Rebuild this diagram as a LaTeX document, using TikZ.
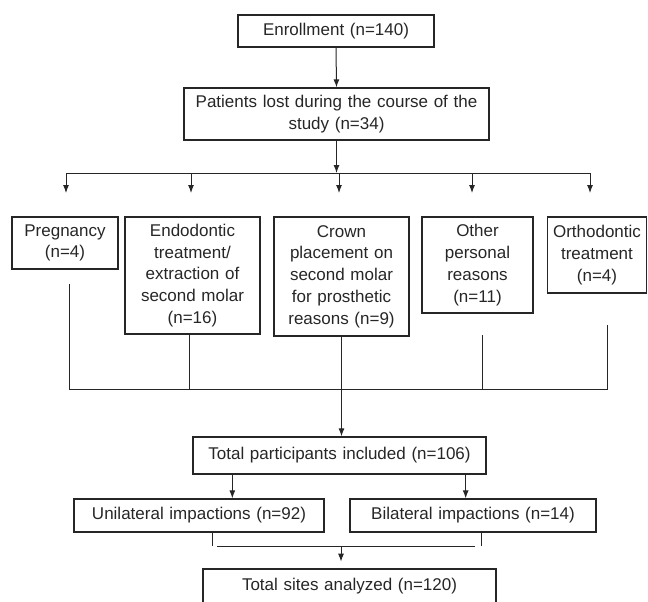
\documentclass[tikz,border=0pt]{standalone}
\usepackage{fontspec}
\setmainfont{Liberation Sans}
\usetikzlibrary{arrows.meta,positioning,calc}
\tikzset{
  flow/.style={-{Latex[length=6pt,width=4.5pt]},line width=0.75pt,draw=black!85},
  link/.style={line width=0.75pt,draw=black!85},
  box/.style={draw=black!85,line width=1pt,align=center,inner xsep=1pt,inner ysep=0pt,
              text=black!85}
}
\begin{document}
\begin{tikzpicture}[x=0.75pt,y=-0.75pt,font=\fontsize{12.75pt}{16.3pt}\selectfont]
  \useasboundingbox (0,0) rectangle (648,601);
  \node[box,text width=145pt,minimum height=24pt] (enroll) at (336,31) {Enrollment (n=140)};
  \node[box,text width=226.75pt,minimum height=39pt] (lost) at (336.5,114) {Patients lost during the course of the\\study (n=34)};
  \node[box,text width=77.5pt,minimum height=39pt] (preg) at (65,243) {Pregnancy\\(n=4)};
  \node[box,text width=99.25pt,minimum height=87.75pt] (endo) at (192.5,275.5) {Endodontic\\treatment/\\extraction of\\second molar\\(n=16)};
  \node[box,text width=99.25pt,minimum height=89.25pt] (crown) at (341.5,276.5) {Crown\\placement on\\second molar\\for prosthetic\\reasons (n=9)};
  \node[box,text width=81.25pt,minimum height=72pt] (other) at (477.5,265) {Other\\personal\\reasons\\(n=11)};
  \node[box,text width=72.25pt,minimum height=57pt] (ortho) at (597,255) {Orthodontic\\treatment\\(n=4)};
  \node[box,text width=217.75pt,minimum height=27.75pt] (total) at (339.5,455.5) {Total participants included (n=106)};
  \node[box,text width=185.5pt,minimum height=24.75pt] (uni) at (199,515.5) {Unilateral impactions (n=92)};
  \node[box,text width=182.5pt,minimum height=24.75pt] (bi) at (473,515.5) {Bilateral impactions (n=14)};
  \node[box,text width=217.75pt,minimum height=25.5pt] (sites) at (349.5,586) {Total sites analyzed (n=120)};

  \coordinate (split) at (336.5,173);
  \coordinate (d1) at (66,193);
  \coordinate (d2) at (191,193);
  \coordinate (d3) at (339,193);
  \coordinate (d4) at (472,193);
  \coordinate (d5) at (590,193);
  \draw[flow] (enroll.south) -- (lost.north);
  \draw[flow] (lost.south) -- (split);
  \draw[link] (d1 |- split) -- (d5 |- split);
  \foreach \d in {d1,d2,d3,d4,d5}
    \draw[flow] (\d |- split) -- (\d);

  \coordinate (merge) at (341.5,389);
  \coordinate (u1) at (69,284);
  \coordinate (u2) at (189,334);
  \coordinate (u4) at (482,335);
  \coordinate (u5) at (607,325);
  \draw[link] (u1) |- (merge) -| (u5);
  \draw[link] (u2) -- (u2 |- merge);
  \draw[link] (u4) -- (u4 |- merge);
  \draw[flow] (crown.south) -- (crown.south |- total.north);

  \coordinate (tl) at ($(total.south west)+(40,0)$);
  \coordinate (tr) at ($(total.south east)+(-21,0)$);
  \draw[flow] (tl) -- (tl |- uni.north);
  \draw[flow] (tr) -- (tr |- bi.north);

  \coordinate (jl) at (212,546);
  \coordinate (jr) at (481,546);
  \coordinate (jm) at (341,546);
  \draw[link] (uni.south -| jl) -- (jl);
  \draw[link] (bi.south -| jr) -- (jr);
  \draw[link] ($(jl)+(5,0)$) -- ($(jr)+(-6,0)$);
  \draw[flow,shorten >=5pt] (jm) -- (jm |- sites.north);
\end{tikzpicture}
\end{document}
